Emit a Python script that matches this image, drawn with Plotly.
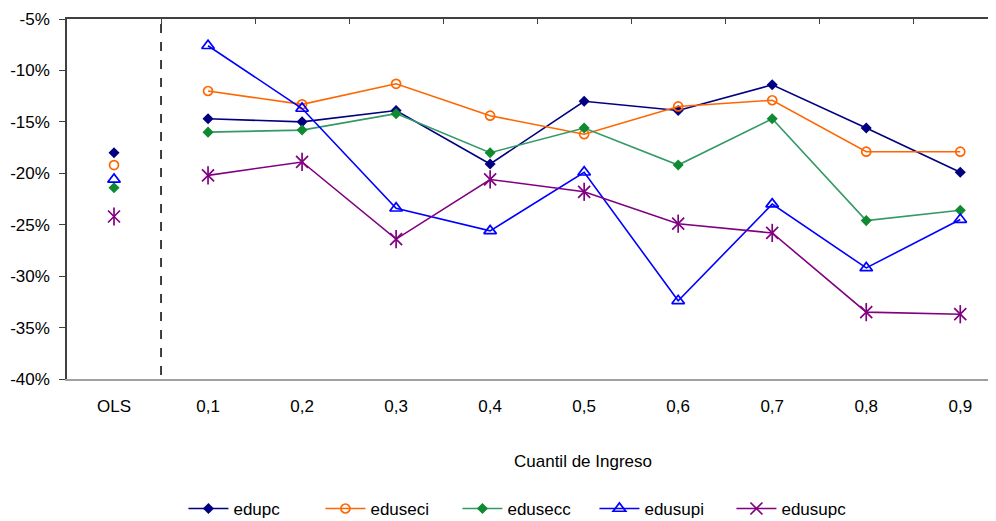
import plotly.graph_objects as go

categories = ["OLS", "0,1", "0,2", "0,3", "0,4", "0,5", "0,6", "0,7", "0,8", "0,9"]
quantiles = categories[1:]

# OLS estimates (percent)
edupc_ols = -18.0
eduseci_ols = -19.2
edusecc_ols = -21.4
edusupi_ols = -20.6
edusupc_ols = -24.2

# Quantile regression estimates (percent)
edupc = [-14.7, -15.0, -13.9, -19.1, -13.0, -13.9, -11.4, -15.6, -19.9]
eduseci = [-12.0, -13.3, -11.3, -14.4, -16.2, -13.5, -12.9, -17.9, -17.9]
edusecc = [-16.0, -15.8, -14.2, -18.0, -15.6, -19.2, -14.7, -24.6, -23.6]
edusupi = [-7.6, -13.7, -23.4, -25.6, -19.9, -32.4, -23.0, -29.2, -24.5]
edusupc = [-20.2, -18.9, -26.4, -20.6, -21.8, -24.9, -25.8, -33.5, -33.7]

y_ticks = [-40, -35, -30, -25, -20, -15, -10, -5]
y_ticktext = [f"{v}%" for v in y_ticks]

FONT = "Liberation Sans, Arial, sans-serif"
FS = 17

series = [
    ("edupc", edupc, edupc_ols, "#000080", dict(symbol="diamond", size=8.5, color="#000080")),
    ("eduseci", eduseci, eduseci_ols, "#FF6600",
     dict(symbol="circle-open", size=9, color="#FF6600", line=dict(width=1.7, color="#FF6600"))),
    ("edusecc", edusecc, edusecc_ols, "#339966", dict(symbol="diamond", size=8.5, color="#108a30")),
    ("edusupi", edusupi, edusupi_ols, "#0000FF",
     dict(symbol="triangle-up-open", size=11, color="#0000FF", line=dict(width=1.7, color="#0000FF"))),
    ("edusupc", edusupc, edusupc_ols, "#800080",
     dict(symbol="x-thin-open", size=12, color="#800080", line=dict(width=1.7, color="#800080"))),
]

fig = go.Figure()

for name, vals, ols, col, mk in series:
    fig.add_trace(go.Scatter(
        x=quantiles, y=vals, name=name, mode="lines+markers",
        line=dict(color=col, width=1.6), marker=mk, xaxis="x", yaxis="y",
    ))
    fig.add_trace(go.Scatter(
        x=[categories[0]], y=[ols], name=name, mode="markers",
        marker=mk, showlegend=False, xaxis="x2", yaxis="y",
    ))
    if name == "edusupc":
        vmk = dict(symbol="line-ns-open", size=13, color=col, line=dict(width=1.7, color=col))
        fig.add_trace(go.Scatter(x=quantiles, y=vals, mode="markers", marker=vmk,
                                 showlegend=False, xaxis="x", yaxis="y"))
        fig.add_trace(go.Scatter(x=[categories[0]], y=[ols], mode="markers", marker=vmk,
                                 showlegend=False, xaxis="x2", yaxis="y"))

xr = [-0.5, 9.38]

fig.update_layout(
    width=996, height=521,
    margin=dict(l=59, r=8, t=11, b=150, autoexpand=False),
    paper_bgcolor="white", plot_bgcolor="rgba(0,0,0,0)",
    font=dict(family=FONT, size=FS, color="black"),
    showlegend=True,
    legend=dict(orientation="h", x=0.494, xanchor="center", y=-0.361, yanchor="middle",
                font=dict(size=FS), itemwidth=40, tracegroupgap=0,
                entrywidth=82, entrywidthmode="pixels"),
    xaxis=dict(type="category", categoryorder="array", categoryarray=categories,
               domain=[0, 1], anchor="y", automargin=False,
               range=xr, showline=True, linecolor="#a0a0a0", linewidth=1.5,
               ticks="", showgrid=False, zeroline=False, ticklabelstandoff=11,
               tickfont=dict(size=FS)),
    xaxis2=dict(type="category", categoryorder="array", categoryarray=categories,
                domain=[0, 1], range=xr, side="top", anchor="y", automargin=False,
                showline=True, linecolor="#404040", linewidth=1.5,
                ticks="inside", ticklen=5, tickcolor="#404040", tickwidth=1.2,
                tickson="boundaries",
                showticklabels=False, showgrid=False, zeroline=False),
    yaxis=dict(range=[-40, -5], tickmode="array", tickvals=y_ticks, ticktext=y_ticktext,
               automargin=False,
               showline=True, linecolor="#404040", linewidth=1.5,
               ticks="outside", ticklen=6, tickcolor="#404040", ticklabelstandoff=6,
               showgrid=False, zeroline=False, tickfont=dict(size=FS)),
    shapes=[dict(type="line", xref="x", yref="paper", x0=0.5, x1=0.5, y0=0.011, y1=1.0,
                 line=dict(color="black", width=1.5, dash="dash"))],
    annotations=[dict(text="Cuantil de Ingreso", xref="paper", yref="paper",
                      x=0.555, y=-0.228, xanchor="center", yanchor="middle",
                      showarrow=False, font=dict(size=FS))],
)

fig.write_html("out.html")
